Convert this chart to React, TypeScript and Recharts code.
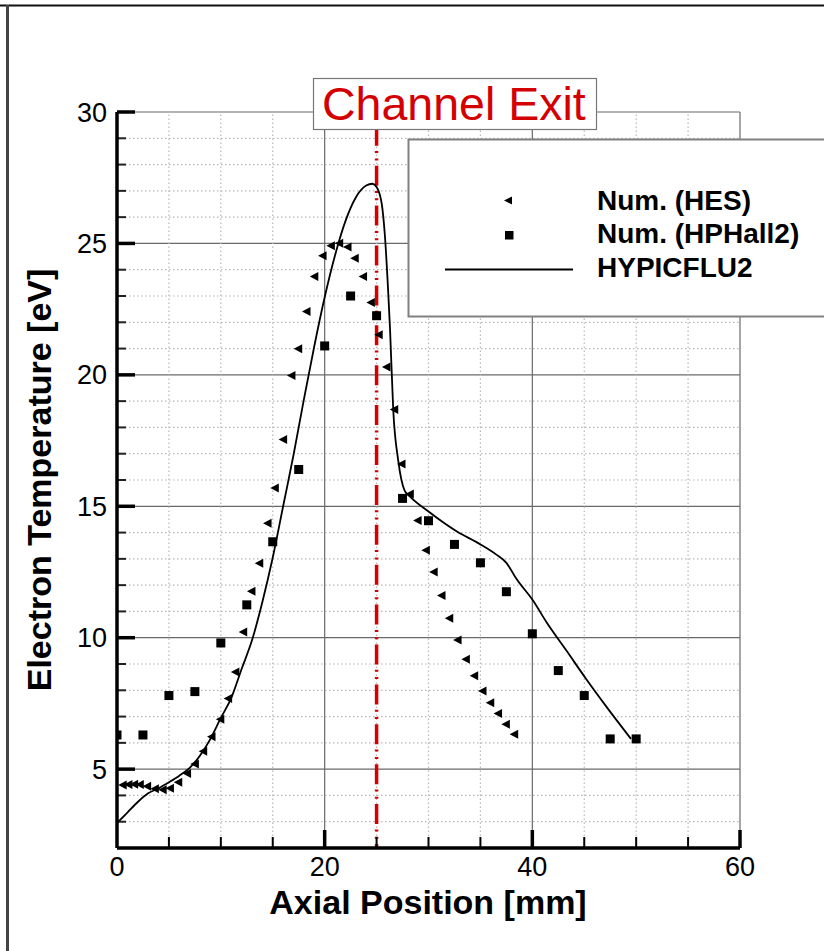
import React from 'react';
import { ComposedChart, Scatter, Line, XAxis, YAxis, CartesianGrid, ReferenceLine } from 'recharts';

const FONT = '"Liberation Sans", Arial, Helvetica, sans-serif';

// axis ticks
const xLabelTicks = [0, 20, 40, 60];
const xMajorTicks = [20, 40, 60];
const xMinorTicks = [5, 10, 15, 25, 30, 35, 45, 50, 55];
const yLabelTicks = [5, 10, 15, 20, 25, 30];
const yMajorTicks = [5, 10, 15, 20, 25, 30];
const yMinorTicks = [3, 4, 6, 7, 8, 9, 11, 12, 13, 14, 16, 17, 18, 19, 21, 22, 23, 24, 26, 27, 28, 29];
const X_DOMAIN = [0, 60];
const Y_DOMAIN = [2, 30];

// Num. (HES)
const hesX = [0.55, 1.1, 1.65, 2.2, 2.9, 3.65, 4.4, 5.1, 5.9, 6.75, 7.5, 8.3, 9.1, 9.95, 10.7, 11.4, 12.15, 12.95, 13.7, 14.5, 15.2, 16.0, 16.8, 17.45, 18.25, 19.0, 19.8, 20.6, 21.4, 22.2, 22.9, 23.7, 24.45, 25.2, 25.95, 26.7, 27.4, 28.2, 28.95, 29.75, 30.5, 31.25, 32.0, 32.8, 33.6, 34.4, 35.2, 35.95, 36.7, 37.45, 38.25];
const hesY = [4.4, 4.42, 4.43, 4.42, 4.35, 4.25, 4.22, 4.27, 4.5, 4.83, 5.2, 5.68, 6.23, 6.9, 7.69, 8.7, 10.22, 11.77, 12.83, 14.35, 15.7, 17.54, 19.98, 20.99, 22.41, 23.74, 24.53, 24.91, 25.01, 24.86, 24.44, 23.74, 22.75, 21.53, 20.3, 18.68, 16.61, 15.47, 14.46, 13.33, 12.5, 11.61, 10.74, 9.91, 9.18, 8.55, 7.97, 7.53, 7.12, 6.71, 6.33];

// Num. (HPHall2)
const hphX = [0, 2.5, 5, 7.5, 10, 12.5, 15, 17.5, 20, 22.5, 25, 27.5, 30, 32.5, 35, 37.5, 40, 42.5, 45, 47.5, 50];
const hphY = [6.3, 6.3, 7.8, 7.95, 9.8, 11.25, 13.65, 16.4, 21.1, 23.0, 22.25, 15.3, 14.45, 13.55, 12.85, 11.75, 10.15, 8.75, 7.8, 6.15, 6.15];

// HYPICFLU2
const hypX = [0, 1, 2, 3, 4, 5, 6, 7, 8, 9, 10, 11, 12, 13, 14, 15, 16, 17, 18, 19, 20, 21, 22, 23, 24, 24.6, 25.0, 25.5, 25.8, 26.1, 26.3, 26.6, 27.1, 27.7, 28.2, 30, 32.7, 35, 36.5, 37.5, 38.5, 40, 41.4, 43.3, 45.2, 47.2, 49.5];
const hypY = [2.95, 3.35, 3.75, 4.08, 4.27, 4.5, 4.75, 5.05, 5.52, 6.15, 6.95, 7.7, 8.81, 9.9, 11.36, 13.05, 15.0, 16.95, 19.07, 21.09, 22.95, 24.55, 25.85, 26.75, 27.2, 27.27, 27.15, 26.5, 25.3, 23.3, 21.7, 18.7, 16.7, 15.6, 15.38, 14.8, 14.05, 13.55, 13.17, 12.85, 12.22, 11.45, 10.57, 9.5, 8.42, 7.34, 6.15];

const channelExitX = 25;

const hesData = hesX.map((x, i) => ({ x, y: hesY[i] }));
const hphData = hphX.map((x, i) => ({ x, y: hphY[i] }));
const hypData = hypX.map((x, i) => ({ x, y: hypY[i] }));

// layout
const CHART_W = 824;
const CHART_H = 951;
const MARGIN = { top: 112, right: 84, bottom: 63, left: 57 };
const Y_AXIS_W = 60;
const X_AXIS_H = 40;
const PLOT_W = CHART_W - MARGIN.left - MARGIN.right - Y_AXIS_W;
const PLOT_H = CHART_H - MARGIN.top - MARGIN.bottom - X_AXIS_H;
// pixel lengths of inward tick marks expressed in data units
const XU = (X_DOMAIN[1] - X_DOMAIN[0]) / PLOT_W;
const YU = (Y_DOMAIN[1] - Y_DOMAIN[0]) / PLOT_H;

const LeftTriangle = (props: any) => {
  const { cx, cy } = props;
  return <polygon points={`${cx - 4.5},${cy} ${cx + 4},${cy - 4.5} ${cx + 4},${cy + 4.5}`} fill="#000" />;
};
const Square = (props: any) => {
  const { cx, cy } = props;
  return <rect x={cx - 4.5} y={cy - 4.5} width={9} height={9} fill="#000" />;
};

const tickStyle = { fontSize: 27, fill: '#000', fontFamily: FONT };
const minorGrid = { stroke: '#b8b8b8', strokeWidth: 1.2, strokeDasharray: '1.5 2.5' };

export default function App() {
  return (
    <div style={{ position: 'absolute', left: 0, top: 0, width: CHART_W, height: CHART_H, background: '#fff', overflow: 'hidden' }}>
      <ComposedChart width={CHART_W} height={CHART_H} margin={MARGIN} style={{ fontFamily: FONT }}>
        {xMinorTicks.map((v) => (
          <ReferenceLine key={`gx${v}`} x={v} {...minorGrid} />
        ))}
        {yMinorTicks.map((v) => (
          <ReferenceLine key={`gy${v}`} y={v} {...minorGrid} />
        ))}
        <CartesianGrid stroke="#6a6a6a" strokeWidth={1.2} />
        <XAxis
          dataKey="x"
          type="number"
          domain={X_DOMAIN}
          ticks={xLabelTicks}
          allowDataOverflow
          height={X_AXIS_H}
          tickLine={false}
          tickSize={0}
          tickMargin={9}
          axisLine={{ stroke: '#000', strokeWidth: 3.5 }}
          tick={tickStyle}
        />
        <YAxis
          type="number"
          domain={Y_DOMAIN}
          ticks={yLabelTicks}
          allowDataOverflow
          width={Y_AXIS_W}
          tickLine={false}
          tickSize={0}
          tickMargin={10}
          axisLine={{ stroke: '#000', strokeWidth: 3.5 }}
          tick={tickStyle}
        />
        <ReferenceLine x={channelExitX} stroke="#d40000" strokeWidth={3.5} strokeDasharray="20 5.3 2 5.3 2 5.3" strokeDashoffset={16} />
        <Line data={hypData} dataKey="y" type="monotone" stroke="#000" strokeWidth={1.8} dot={false} activeDot={false} isAnimationActive={false} />
        <Scatter data={hesData} dataKey="y" shape={LeftTriangle} isAnimationActive={false} />
        <Scatter data={hphData} dataKey="y" shape={Square} isAnimationActive={false} />
        {/* inward tick marks */}
        {yMinorTicks.map((v) => (
          <ReferenceLine key={`ty${v}`} segment={[{ x: X_DOMAIN[0], y: v }, { x: X_DOMAIN[0] + 9 * XU, y: v }]} stroke="#222" strokeWidth={2} />
        ))}
        {yMajorTicks.map((v) => (
          <ReferenceLine key={`TY${v}`} segment={[{ x: X_DOMAIN[0], y: v }, { x: X_DOMAIN[0] + 18 * XU, y: v }]} stroke="#000" strokeWidth={3.5} />
        ))}
        {xMinorTicks.map((v) => (
          <ReferenceLine key={`tx${v}`} segment={[{ x: v, y: Y_DOMAIN[0] }, { x: v, y: Y_DOMAIN[0] + 11 * YU }]} stroke="#000" strokeWidth={2} />
        ))}
        {xMajorTicks.map((v) => (
          <ReferenceLine key={`TX${v}`} segment={[{ x: v, y: Y_DOMAIN[0] }, { x: v, y: Y_DOMAIN[0] + 18 * YU }]} stroke="#000" strokeWidth={3.5} />
        ))}
      </ComposedChart>
      <svg width={CHART_W} height={CHART_H} style={{ position: 'absolute', left: 0, top: 0, pointerEvents: 'none' }}>
        {/* outer frame */}
        <line x1={0} y1={5.5} x2={824} y2={5.5} stroke="#111" strokeWidth={2} />
        <line x1={7.5} y1={5} x2={7.5} y2={951} stroke="#444" strokeWidth={3} />
        {/* channel exit label */}
        <rect x={313.5} y={78.5} width={283} height={51} fill="#fff" stroke="#777" strokeWidth={1.2} />
        <text x={322} y={119.5} fontFamily={FONT} fontSize={46.5} fill="#d40000">Channel Exit</text>
        {/* legend */}
        <rect x={408.5} y={139.5} width={440} height={177} fill="#fff" stroke="#808080" strokeWidth={2} />
        <polygon points="504,200.5 512,196.5 512,204.5" fill="#000" />
        <rect x={505} y={231} width={8.5} height={8.5} fill="#000" />
        <line x1={445} y1={269.5} x2={573} y2={269.5} stroke="#000" strokeWidth={2} />
        <text x={597} y={209.5} fontFamily={FONT} fontWeight="bold" fontSize={28} fill="#000">Num. (HES)</text>
        <text x={597} y={243} fontFamily={FONT} fontWeight="bold" fontSize={28} fill="#000">Num. (HPHall2)</text>
        <text x={597} y={277} fontFamily={FONT} fontWeight="bold" fontSize={28} fill="#000">HYPICFLU2</text>
        {/* axis titles */}
        <text x={428} y={914} textAnchor="middle" fontFamily={FONT} fontWeight="bold" fontSize={34} fill="#000">Axial Position [mm]</text>
        <text x={51} y={480} textAnchor="middle" transform="rotate(-90 51 480)" fontFamily={FONT} fontWeight="bold" fontSize={34} fill="#000">Electron Temperature [eV]</text>
      </svg>
    </div>
  );
}
